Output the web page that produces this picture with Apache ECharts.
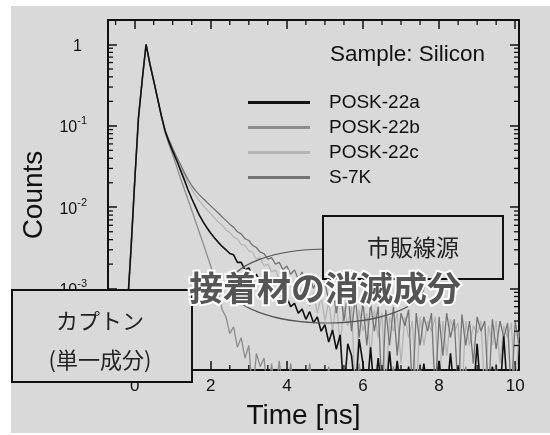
<!DOCTYPE html>
<html>
<head>
<meta charset="utf-8">
<script src="https://cdn.jsdelivr.net/npm/echarts@6/dist/echarts.min.js"></script>
<style>
  html, body { margin: 0; padding: 0; background: #fff; }
  #chart { width: 550px; height: 435px; }
</style>
</head>
<body>
<div id="chart"></div>
<script>
// zero counts: sits below the axis floor so the line drops to the bottom edge
const Z = 0.00005;

const time = [
  -0.6, -0.5, -0.4, -0.3, -0.2, -0.1, 0, 0.1, 0.2, 0.3,
  0.4, 0.5, 0.6, 0.7, 0.8, 0.9, 1.0, 1.1, 1.2, 1.3,
  1.4, 1.5, 1.6, 1.7, 1.8, 1.9, 2.0, 2.1, 2.2, 2.3,
  2.4, 2.5, 2.6, 2.7, 2.8, 2.9, 3.0, 3.1, 3.2, 3.3,
  3.4, 3.5, 3.6, 3.7, 3.8, 3.9, 4.0, 4.1, 4.2, 4.3,
  4.4, 4.5, 4.6, 4.7, 4.8, 4.9, 5.0, 5.1, 5.2, 5.3,
  5.4, 5.5, 5.6, 5.7, 5.8, 5.9, 6.0, 6.1, 6.2, 6.3,
  6.4, 6.5, 6.6, 6.7, 6.8, 6.9, 7.0, 7.1, 7.2, 7.3,
  7.4, 7.5, 7.6, 7.7, 7.8, 7.9, 8.0, 8.1, 8.2, 8.3,
  8.4, 8.5, 8.6, 8.7, 8.8, 8.9, 9.0, 9.1, 9.2, 9.3,
  9.4, 9.5, 9.6, 9.7, 9.8, 9.9, 10.0, 10.1
];

const posk22a = [
  Z, Z, Z, Z, 0.0005, 0.0028, 0.02, 0.125, 0.37, 1.0,
  0.58, 0.36, 0.22, 0.134, 0.087, 0.064, 0.049, 0.038, 0.029, 0.022,
  0.0165, 0.0128, 0.0101, 0.0080, 0.0066, 0.0056, 0.0048, 0.0042, 0.0037, 0.0033,
  0.0030, 0.0027, 0.0026, 0.0021, 0.0021, 0.0017, 0.0018, 0.0014, 0.0015, 0.0012,
  0.00125, 0.0010, 0.00105, 0.00086, 0.0009, 0.00072, 0.00078, 0.0006, 0.00066, 0.0005,
  0.00056, 0.00042, 0.00052, 0.00038, 0.00045, 0.0003, 0.00036, 0.00022, 0.00031, 0.00018,
  0.00027, Z, 0.00021, 0.00015, Z, 0.00024, 0.00012, Z, 0.00019, Z,
  0.00014, Z, Z, 0.00017, Z, 0.00013, Z, Z, 0.00011, Z,
  Z, Z, 0.00012, Z, Z, Z, 0.00013, Z, Z, 0.00016,
  Z, 0.00011, Z, Z, Z, Z, 0.00021, Z, Z, Z,
  0.00011, Z, Z, 0.00026, Z, Z, Z, Z
];

const posk22b = [
  Z, Z, Z, Z, 0.0005, 0.0028, 0.02, 0.125, 0.37, 1.0,
  0.58, 0.36, 0.22, 0.134, 0.082, 0.060, 0.044, 0.032, 0.023, 0.017,
  0.0125, 0.0092, 0.0067, 0.0049, 0.0036, 0.0026, 0.0019, 0.0013, 0.0009, 0.00055,
  0.00045, 0.00028, 0.00034, 0.00019, 0.00025, 0.00014, 0.0002, Z, 0.00016, 0.00011,
  0.00014, Z, 0.00012, Z, 0.00013, Z, Z, 0.00012, Z, Z,
  Z, Z, 0.00012, Z, Z, Z, Z, 0.00011, Z, Z,
  Z, Z, Z, Z, Z, 0.00012, Z, Z, Z, Z,
  Z, Z, Z, Z, 0.00011, Z, Z, Z, Z, Z,
  Z, 0.00012, Z, Z, Z, Z, Z, Z, Z, Z,
  Z, Z, Z, 0.00011, Z, Z, Z, Z, Z, Z,
  Z, 0.00012, Z, Z, Z, Z, Z, Z
];

const posk22c = [
  Z, Z, Z, Z, 0.0005, 0.0028, 0.02, 0.125, 0.37, 1.0,
  0.58, 0.36, 0.22, 0.134, 0.087, 0.066, 0.051, 0.040, 0.032, 0.025,
  0.020, 0.0165, 0.014, 0.012, 0.0105, 0.0093, 0.0083, 0.0074, 0.0066, 0.006,
  0.0053, 0.0049, 0.0043, 0.0041, 0.0035, 0.0034, 0.0029, 0.0028, 0.0023, 0.0024,
  0.0019, 0.002, 0.0016, 0.0017, 0.0013, 0.0015, 0.0011, 0.0013, 0.0009, 0.0012,
  0.0008, 0.001, 0.0006, 0.0009, 0.0005, 0.0008, 0.0004, 0.0007, 0.0003, 0.0007,
  0.0002, 0.0006, 0.00035, 0.0006, Z, 0.00055, 0.0003, 0.0005, 0.00015, 0.00055,
  0.00025, 0.0005, Z, 0.00045, 0.0003, 0.0005, 0.00012, 0.00045, 0.00025, 0.0004,
  Z, 0.00045, 0.0002, 0.0004, 0.0003, 0.00045, Z, 0.0004, 0.00015, 0.00042,
  0.0003, 0.00038, Z, 0.0004, 0.0002, 0.00035, 0.00028, 0.0004, Z, 0.00035,
  0.0002, 0.0004, 0.00012, 0.00035, 0.00025, 0.00038, Z, 0.0003
];

const s7k = [
  Z, Z, Z, Z, 0.0005, 0.0028, 0.02, 0.125, 0.37, 1.0,
  0.58, 0.36, 0.22, 0.134, 0.088, 0.068, 0.053, 0.042, 0.034, 0.027,
  0.022, 0.0185, 0.016, 0.0142, 0.0128, 0.0115, 0.0104, 0.0094, 0.0085, 0.0076,
  0.0069, 0.0062, 0.0057, 0.005, 0.0047, 0.0041, 0.0039, 0.0034, 0.0032, 0.0028,
  0.0027, 0.0023, 0.0024, 0.002, 0.0021, 0.0017, 0.0019, 0.0015, 0.0017, 0.0013,
  0.0016, 0.0011, 0.0014, 0.001, 0.0013, 0.0008, 0.0012, 0.0007, 0.0011, 0.0005,
  0.001, 0.0004, 0.0009, 0.0003, 0.0008, 0.00025, 0.0007, 0.0002, 0.00065, 0.0003,
  0.0006, Z, 0.00055, 0.0002, 0.0006, 0.00015, 0.0005, 0.00035, 0.00055, Z,
  0.0005, 0.0002, 0.00045, 0.0003, 0.0005, Z, 0.00045, 0.00015, 0.0005, 0.00025,
  0.00042, Z, 0.00048, 0.0002, 0.0004, 0.00012, 0.00045, 0.0003, 0.0004, Z,
  0.00042, 0.00018, 0.0004, 0.00025, 0.00038, Z, 0.0004, 0.0002
];

const xTickLabels = ['0', '2', '4', '6', '8', '10'];
const xMinorTicks = [-0.5, 0.5, 1, 1.5, 2.5, 3, 3.5, 4.5, 5, 5.5, 6.5, 7, 7.5, 8.5, 9, 9.5];
const yMinorTicks = [
  0.0002, 0.0003, 0.0004, 0.0005, 0.0006, 0.0007, 0.0008, 0.0009,
  0.002, 0.003, 0.004, 0.005, 0.006, 0.007, 0.008, 0.009,
  0.02, 0.03, 0.04, 0.05, 0.06, 0.07, 0.08, 0.09,
  0.2, 0.3, 0.4, 0.5, 0.6, 0.7, 0.8, 0.9
];

const X_MIN = -0.7, X_MAX = 10.1;
const Y_MIN = 0.0001, Y_MAX = 2;

const chart = echarts.init(document.getElementById('chart'), null, { renderer: 'canvas' });

const fontEn = 'Arial';
const fontJa = '"Noto Sans CJK JP"';

function mkLine(name, arr, color, width, z) {
  return {
    name: name,
    type: 'line',
    data: time.map((t, i) => [t, arr[i]]),
    showSymbol: false,
    symbol: 'none',
    z: z,
    itemStyle: { color: color },
    lineStyle: { color: color, width: width },
    animation: false
  };
}

function yLabel(v) {
  const lg = Math.log10(v);
  const e = Math.round(lg);
  if (Math.abs(lg - e) > 1e-6 || e > 0 || e < -3) return '';
  if (e === 0) return '{base|1}{pad|}';
  return '{base|10}{sup|' + e + '}';
}

const axisLineStyle = { onZero: false, lineStyle: { color: '#111', width: 2 } };
const majorTick = { inside: true, length: 9, lineStyle: { color: '#111', width: 1.5 } };

const option = {
  backgroundColor: '#fff',
  animation: false,
  grid: { left: 108, right: 31, top: 20, bottom: 60 },
  legend: {
    data: ['POSK-22a', 'POSK-22b', 'POSK-22c', 'S-7K'],
    orient: 'vertical',
    left: 248, top: 93, padding: 0,
    itemGap: 6, itemWidth: 62, itemHeight: 3,
    icon: 'rect',
    selectedMode: false,
    textStyle: { fontSize: 19, color: '#111', fontFamily: fontEn, padding: [0, 0, 0, 14] }
  },
  xAxis: [
    {
      type: 'value', position: 'bottom', min: X_MIN, max: X_MAX, splitNumber: 5,
      name: 'Time [ns]', nameLocation: 'middle', nameGap: 32,
      nameTextStyle: { fontSize: 28, color: '#111', fontFamily: fontEn, padding: [0, 20, 0, 0] },
      axisLine: axisLineStyle,
      axisTick: majorTick,
      axisLabel: {
        margin: 8, fontSize: 17, color: '#111', fontFamily: fontEn,
        formatter: v => xTickLabels.indexOf(String(v)) >= 0 ? String(v) : ''
      },
      splitLine: { show: false }
    },
    {
      type: 'value', position: 'top', min: X_MIN, max: X_MAX, splitNumber: 5,
      axisLine: axisLineStyle,
      axisTick: majorTick,
      axisLabel: { show: false },
      splitLine: { show: false }
    }
  ],
  yAxis: [
    {
      type: 'log', logBase: 10, min: Y_MIN, max: Y_MAX, position: 'left',
      name: 'Counts', nameLocation: 'middle', nameGap: 50,
      nameTextStyle: { fontSize: 28, color: '#111', fontFamily: fontEn },
      axisLine: axisLineStyle,
      axisTick: majorTick,
      axisLabel: {
        margin: 21, formatter: yLabel,
        rich: {
          base: { fontSize: 16, color: '#111', fontFamily: fontEn, verticalAlign: 'bottom', lineHeight: 20 },
          sup: { fontSize: 11, color: '#111', fontFamily: fontEn, verticalAlign: 'top', lineHeight: 20 },
          pad: { width: 5, lineHeight: 20 }
        }
      },
      splitLine: { show: false }
    },
    {
      type: 'log', logBase: 10, min: Y_MIN, max: Y_MAX, position: 'right',
      axisLine: axisLineStyle,
      axisTick: majorTick,
      axisLabel: { show: false },
      splitLine: { show: false }
    }
  ],
  series: [
    mkLine('POSK-22c', posk22c, '#b4b4b4', 1.3, 2),
    mkLine('S-7K', s7k, '#747474', 1.3, 3),
    mkLine('POSK-22b', posk22b, '#8c8c8c', 1.3, 4),
    mkLine('POSK-22a', posk22a, '#111111', 1.6, 5),
    {
      // minor ticks on the left / right log axes
      type: 'custom', silent: true, z: 6,
      data: yMinorTicks.map(v => [0, v]),
      renderItem: (params, api) => {
        const cs = params.coordSys;
        const y = api.coord([api.value(0), api.value(1)])[1];
        const st = { stroke: '#111', lineWidth: 1.3 };
        return {
          type: 'group', children: [
            { type: 'line', shape: { x1: cs.x, y1: y, x2: cs.x + 5, y2: y }, style: st },
            { type: 'line', shape: { x1: cs.x + cs.width - 5, y1: y, x2: cs.x + cs.width, y2: y }, style: st }
          ]
        };
      }
    },
    {
      // minor ticks on the bottom / top time axes
      type: 'custom', silent: true, z: 6,
      data: xMinorTicks.map(t => [t, 1]),
      renderItem: (params, api) => {
        const cs = params.coordSys;
        const x = api.coord([api.value(0), api.value(1)])[0];
        const st = { stroke: '#111', lineWidth: 1.3 };
        return {
          type: 'group', children: [
            { type: 'line', shape: { x1: x, y1: cs.y + cs.height, x2: x, y2: cs.y + cs.height - 5 }, style: st },
            { type: 'line', shape: { x1: x, y1: cs.y, x2: x, y2: cs.y + 5 }, style: st }
          ]
        };
      }
    }
  ],
  graphic: [
    { type: 'rect', z: -10, silent: true, shape: { x: 11, y: 6, width: 539, height: 427 }, style: { fill: '#d9d9d9' } },
    {
      type: 'text', z: 50, left: 330, top: 43,
      style: { text: 'Sample: Silicon', font: '22.5px ' + fontEn, fill: '#111' }
    },
    {
      type: 'ellipse', z: 90, silent: true,
      shape: { cx: 327, cy: 286, rx: 97, ry: 37 },
      style: { fill: null, stroke: '#555', lineWidth: 1.2 }
    },
    {
      type: 'rect', z: 95, shape: { x: 323, y: 216, width: 180, height: 63 },
      style: { fill: '#d9d9d9', stroke: '#111', lineWidth: 2 }
    },
    {
      type: 'text', z: 96, x: 413, y: 247,
      style: { text: '市販線源', font: '23px ' + fontJa, fill: '#222', align: 'center', verticalAlign: 'middle' }
    },
    {
      type: 'rect', z: 95, shape: { x: 12, y: 290, width: 180, height: 92 },
      style: { fill: '#d9d9d9', stroke: '#111', lineWidth: 2 }
    },
    {
      type: 'text', z: 96, x: 100, y: 321,
      style: { text: 'カプトン', font: '22px ' + fontJa, fill: '#222', align: 'center', verticalAlign: 'middle' }
    },
    {
      type: 'text', z: 96, x: 100, y: 360,
      style: { text: '(単一成分)', font: '22px ' + fontJa, fill: '#222', align: 'center', verticalAlign: 'middle' }
    },
    {
      type: 'text', z: 100, x: 325, y: 288,
      style: {
        text: '接着材の消滅成分', font: 'bold 34px ' + fontJa,
        fill: '#555', stroke: '#fff', lineWidth: 4, strokeFirst: true,
        align: 'center', verticalAlign: 'middle'
      }
    }
  ]
};

chart.setOption(option);
</script>
</body>
</html>
